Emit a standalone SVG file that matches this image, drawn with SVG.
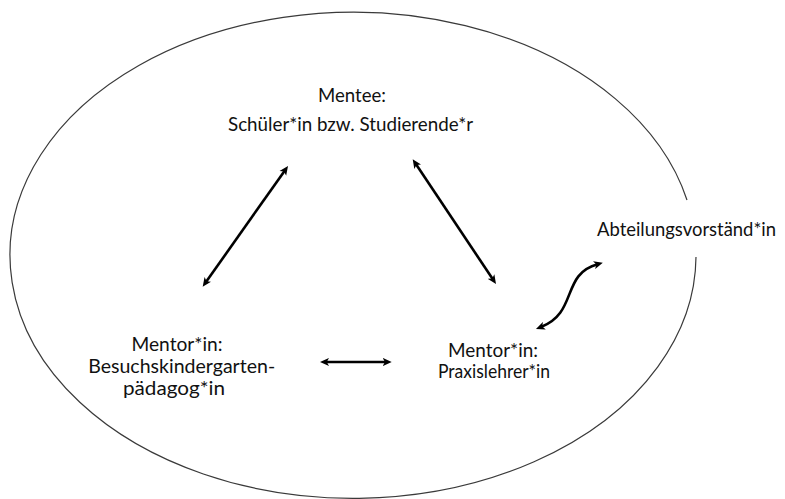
<svg xmlns="http://www.w3.org/2000/svg" width="785" height="499" viewBox="0 0 785 499">
  <style>
    .lbl { font-family: Lato, "Open Sans", "Liberation Sans", sans-serif; font-size: 19.5px; fill: #111; text-anchor: middle; }
    .edge { fill: none; stroke: #000; stroke-width: 2.6; }
    .frame { fill: none; stroke: #3a3a3a; stroke-width: 1.2; }
  </style>
  <defs>
    <marker id="head" viewBox="0 0 10 10" markerUnits="userSpaceOnUse" markerWidth="9" markerHeight="9" refX="4" refY="5" orient="auto-start-reverse">
      <path d="M0,0.5 L10,5 L0,9.5 L2.5,5 Z" fill="#000"/>
    </marker>
  </defs>

  <rect width="785" height="499" fill="#fff"/>

  <!-- open ellipse enclosing the mentoring triangle -->
  <path class="frame" d="M 696 257 A 343 243 0 1 1 687 200"/>

  <g id="mentee">
    <text class="lbl" x="352" y="102" textLength="68" lengthAdjust="spacingAndGlyphs">Mentee:</text>
    <text class="lbl" x="350.5" y="131" textLength="245" lengthAdjust="spacingAndGlyphs">Schüler*in bzw. Studierende*r</text>
  </g>

  <g id="mentor-kindergarten">
    <text class="lbl" x="177" y="351" textLength="91" lengthAdjust="spacingAndGlyphs">Mentor*in:</text>
    <text class="lbl" x="181.7" y="373" textLength="187" lengthAdjust="spacingAndGlyphs">Besuchskindergarten-</text>
    <text class="lbl" x="174" y="395" textLength="102" lengthAdjust="spacingAndGlyphs">pädagog*in</text>
  </g>

  <g id="mentor-praxis">
    <text class="lbl" x="493" y="356.5" textLength="90" lengthAdjust="spacingAndGlyphs">Mentor*in:</text>
    <text class="lbl" x="494" y="377.5" textLength="112" lengthAdjust="spacingAndGlyphs">Praxislehrer*in</text>
  </g>

  <g id="abteilungsvorstand">
    <text class="lbl" x="686.5" y="236" textLength="179" lengthAdjust="spacingAndGlyphs">Abteilungsvorständ*in</text>
  </g>

  <g id="connectors">
    <path class="edge" d="M 284.9 170.4 L 205.8 282.3" marker-start="url(#head)" marker-end="url(#head)"/>
    <path class="edge" d="M 415.7 163.8 L 493 279.5" marker-start="url(#head)" marker-end="url(#head)"/>
    <path class="edge" d="M 325.4 362 L 386.3 362" marker-start="url(#head)" marker-end="url(#head)"/>
    <path class="edge" d="M 541 327 C 578 313, 561 274, 597.6 264.2" marker-start="url(#head)" marker-end="url(#head)"/>
  </g>
</svg>
